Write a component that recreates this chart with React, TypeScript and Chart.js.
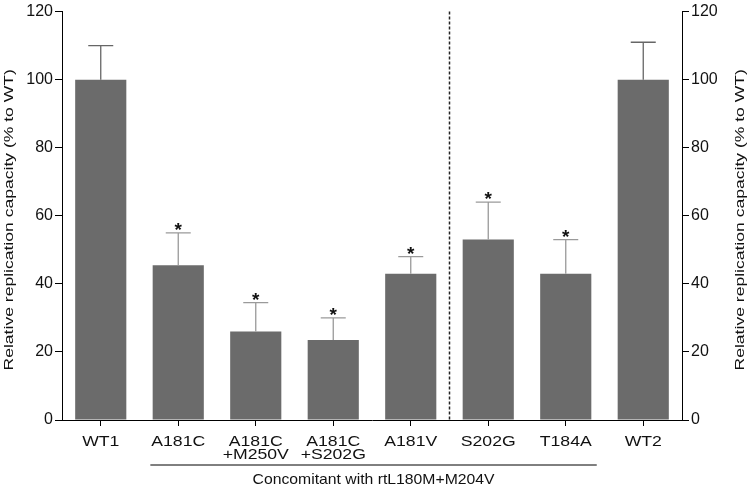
import React, { useEffect, useRef } from "react";
import { Chart, registerables } from "chart.js";

Chart.register(...registerables);

const categories: string[][] = [
  ["WT1"],
  ["A181C"],
  ["A181C", "+M250V"],
  ["A181C", "+S202G"],
  ["A181V"],
  ["S202G"],
  ["T184A"],
  ["WT2"],
];
const meanValues = [100, 45.5, 26, 23.5, 43, 53, 43, 100];
const upperValues = [110, 55, 34.5, 30, 48, 64, 53, 111];
const significant = [false, true, true, true, true, true, true, false];
const yTicks = [0, 20, 40, 60, 80, 100, 120];
const axisTitle = "Relative replication capacity (% to WT)";
const groupCaption = "Concomitant with rtL180M+M204V";
const groupStart = 1;
const groupEnd = 6;
const dividerAfter = 4;

const FONT = "'Liberation Sans', Arial, sans-serif";

function stretchedText(ctx: any, text: string, x: number, y: number, sx: number, sy: number, rot = 0) {
  ctx.save();
  ctx.translate(x, y);
  if (rot) ctx.rotate(rot);
  ctx.scale(sx, sy);
  ctx.fillText(text, 0, 0);
  ctx.restore();
}

const overlayPlugin = {
  id: "overlay",
  afterDatasetsDraw(chart: any) {
    const ctx = chart.ctx;
    const y = chart.scales.y;
    const area = chart.chartArea;
    const meta = chart.getDatasetMeta(0);
    const catW = (area.right - area.left) / categories.length;
    ctx.save();
    // error bars
    meta.data.forEach((bar: any, i: number) => {
      const x = bar.x;
      const yb = y.getPixelForValue(meanValues[i]);
      const yt = y.getPixelForValue(upperValues[i]);
      ctx.strokeStyle = significant[i] ? "#9a9a9a" : "#666";
      ctx.lineWidth = 1.3;
      ctx.beginPath();
      ctx.moveTo(x, yb);
      ctx.lineTo(x, yt);
      ctx.moveTo(x - 12.5, yt);
      ctx.lineTo(x + 12.5, yt);
      ctx.stroke();
      if (significant[i]) {
        ctx.fillStyle = "#111";
        ctx.font = "bold 19px " + FONT;
        ctx.textAlign = "center";
        ctx.textBaseline = "alphabetic";
        ctx.fillText("*", x, yt + 3);
      }
    });
    // divider
    const xd = (meta.data[dividerAfter].x + meta.data[dividerAfter + 1].x) / 2;
    ctx.strokeStyle = "#222";
    ctx.lineWidth = 1.5;
    ctx.setLineDash([3, 2]);
    ctx.beginPath();
    ctx.moveTo(xd, area.top);
    ctx.lineTo(xd, area.bottom);
    ctx.stroke();
    ctx.setLineDash([]);
    // x category labels
    ctx.fillStyle = "#111";
    ctx.font = "14px " + FONT;
    ctx.textAlign = "center";
    ctx.textBaseline = "alphabetic";
    meta.data.forEach((bar: any, i: number) => {
      categories[i].forEach((line, j) => {
        stretchedText(ctx, line, bar.x, area.bottom + 26 + j * 13, 1.26, 1);
      });
    });
    // group bracket
    const x1 = meta.data[groupStart].x - 0.36 * catW;
    const x2 = meta.data[groupEnd].x + 0.4 * catW;
    const yl = area.bottom + 45;
    ctx.strokeStyle = "#000";
    ctx.lineWidth = 1;
    ctx.beginPath();
    ctx.moveTo(x1, yl);
    ctx.lineTo(x2, yl);
    ctx.stroke();
    ctx.font = "15px " + FONT;
    stretchedText(ctx, groupCaption, (x1 + x2) / 2, yl + 18.5, 1.05, 1);
    // axis titles
    const cy = (area.top + area.bottom) / 2 + 4;
    ctx.font = "13.5px " + FONT;
    stretchedText(ctx, axisTitle, 13, cy, 1.3, 1, -Math.PI / 2);
    stretchedText(ctx, axisTitle, chart.width - 6, cy, 1.3, 1, -Math.PI / 2);
    ctx.restore();
  },
};

export default function App() {
  const ref = useRef<HTMLCanvasElement | null>(null);
  useEffect(() => {
    if (!ref.current) return;
    const yAxis = (position: "left" | "right", width: number) => ({
      type: "linear" as const,
      position,
      min: 0,
      max: 120,
      afterBuildTicks(scale: any) {
        scale.ticks = yTicks.map((v) => ({ value: v }));
      },
      afterFit(scale: any) {
        scale.width = width;
      },
      ticks: {
        color: "#111",
        font: { size: 16, family: FONT },
        padding: 2,
      },
      grid: {
        drawOnChartArea: false,
        drawTicks: true,
        tickLength: 7,
        color: "#000",
      },
      border: { display: true, color: "#000", width: 1 },
    });
    const chart = new Chart(ref.current, {
      type: "bar",
      data: {
        labels: categories.map((c) => c.join(" ")),
        datasets: [
          {
            data: meanValues,
            backgroundColor: "#6b6b6b",
            borderWidth: 0,
            barPercentage: 0.66,
            categoryPercentage: 1,
          },
        ],
      },
      options: {
        animation: false,
        responsive: false,
        maintainAspectRatio: false,
        layout: { padding: { top: 8, bottom: 0, left: 0, right: 0 } },
        plugins: { legend: { display: false }, tooltip: { enabled: false } },
        scales: {
          x: {
            type: "category",
            offset: true,
            afterFit(scale: any) {
              scale.height = 68;
            },
            ticks: {
              color: "rgba(0,0,0,0)",
              font: { size: 14, family: FONT },
              maxRotation: 0,
              autoSkip: false,
            },
            grid: {
              offset: false,
              drawOnChartArea: false,
              drawTicks: true,
              tickLength: 6,
              color: "#000",
            },
            border: { display: true, color: "#000", width: 1 },
          },
          y: yAxis("left", 62),
          y2: yAxis("right", 68),
        },
      },
      plugins: [overlayPlugin],
    });
    return () => chart.destroy();
  }, []);
  return (
    <div style={{ position: "fixed", left: 0, top: 0, width: 750, height: 488, background: "#fff" }}>
      <canvas ref={ref} width={750} height={488} style={{ width: 750, height: 488 }} />
    </div>
  );
}
